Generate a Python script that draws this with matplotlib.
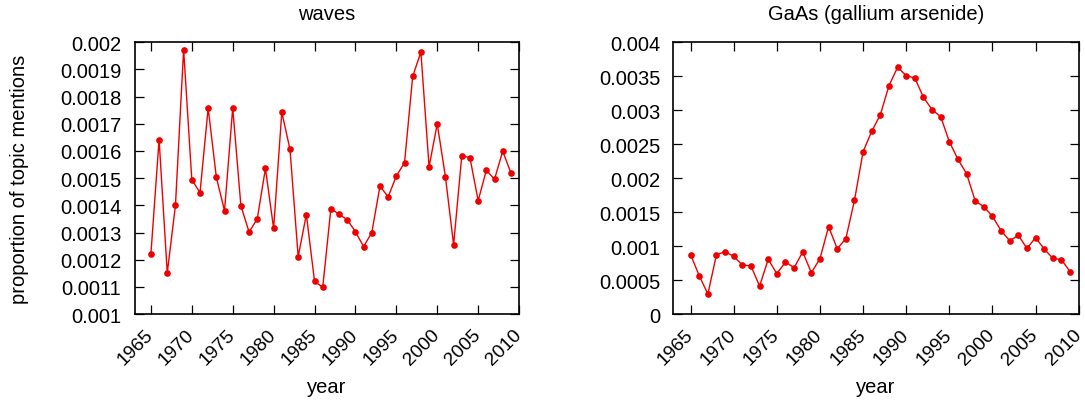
import matplotlib
matplotlib.use("Agg")
import matplotlib.pyplot as plt
from matplotlib.ticker import MultipleLocator, FuncFormatter
from matplotlib.transforms import ScaledTranslation

years = list(range(1965, 2010))

waves = [
    0.001221, 0.001642, 0.001151, 0.001400, 0.001973, 0.001494, 0.001447,
    0.001758, 0.001503, 0.001380, 0.001758, 0.001398, 0.001302, 0.001350,
    0.001536, 0.001315, 0.001743, 0.001606, 0.001211, 0.001366, 0.001121,
    0.001098, 0.001388, 0.001367, 0.001347, 0.001303, 0.001248, 0.001300,
    0.001471, 0.001431, 0.001508, 0.001557, 0.001875, 0.001964, 0.001542,
    0.001700, 0.001505, 0.001255, 0.001583, 0.001575, 0.001417, 0.001529,
    0.001496, 0.001599, 0.001520,
]

gaas = [
    0.000873, 0.000564, 0.000294, 0.000873, 0.000917, 0.000849, 0.000721,
    0.000707, 0.000412, 0.000805, 0.000594, 0.000766, 0.000682, 0.000913,
    0.000608, 0.000815, 0.001286, 0.000962, 0.001109, 0.001673, 0.002390,
    0.002690, 0.002934, 0.003362, 0.003632, 0.003509, 0.003474, 0.003190,
    0.003008, 0.002905, 0.002537, 0.002277, 0.002066, 0.001664, 0.001580,
    0.001438, 0.001227, 0.001079, 0.001158, 0.000967, 0.001124, 0.000957,
    0.000820, 0.000800, 0.000623,
]

titles = ["waves", "GaAs (gallium arsenide)"]
year_ticks = list(range(1965, 2011, 5))

FS = 14.5
XFS = 13.8
plt.rcParams["font.family"] = ["Liberation Sans", "DejaVu Sans"]
plt.rcParams["font.size"] = FS

fig = plt.figure(figsize=(10.85, 4.06), dpi=100)
ax1 = fig.add_axes([0.124, 0.2241, 0.3544, 0.6692])
ax2 = fig.add_axes([0.6206, 0.2241, 0.3736, 0.6692])

# nudge the rotated year labels so their right ends sit under the ticks
nudge = ScaledTranslation(3 / 100, 2 / 100, fig.dpi_scale_trans)


def plain(v, pos):
    return f"{v:.4f}".rstrip("0").rstrip(".")


def style(ax, series, title, ylim, ystep):
    ax.plot(years, series, color="#ee0000", lw=1.0, marker="o",
            markersize=4.8, markeredgewidth=0)
    ax.set_xlim(1963, 2010)
    ax.set_ylim(*ylim)
    ax.set_xticks(year_ticks)
    ax.yaxis.set_major_locator(MultipleLocator(ystep))
    ax.yaxis.set_major_formatter(FuncFormatter(plain))
    ax.tick_params(direction="in", length=6.5, width=0.9, top=True,
                   right=True)
    ax.tick_params(axis="y", pad=9.4, labelsize=FS)
    ax.tick_params(axis="x", pad=16.5, labelsize=XFS)
    for lab in ax.get_xticklabels():
        lab.set_rotation(45)
        lab.set_ha("right")
        lab.set_va("baseline")
        lab.set_rotation_mode("anchor")
        lab.set_transform(lab.get_transform() + nudge)
    for sp in ax.spines.values():
        sp.set_linewidth(1.2)
    ax.set_title(title, fontsize=FS, pad=17)
    ax.set_xlabel("year", fontsize=FS, va="top")
    ax.xaxis.set_label_coords(0.5, -0.232)


style(ax1, waves, titles[0], (0.001, 0.002), 0.0001)
style(ax2, gaas, titles[1], (0.0, 0.004), 0.0005)
ax1.set_ylabel("proportion of topic mentions", fontsize=FS)
ax1.yaxis.set_label_coords(-0.275, 0.5)

fig.savefig("out.png", dpi=100)
